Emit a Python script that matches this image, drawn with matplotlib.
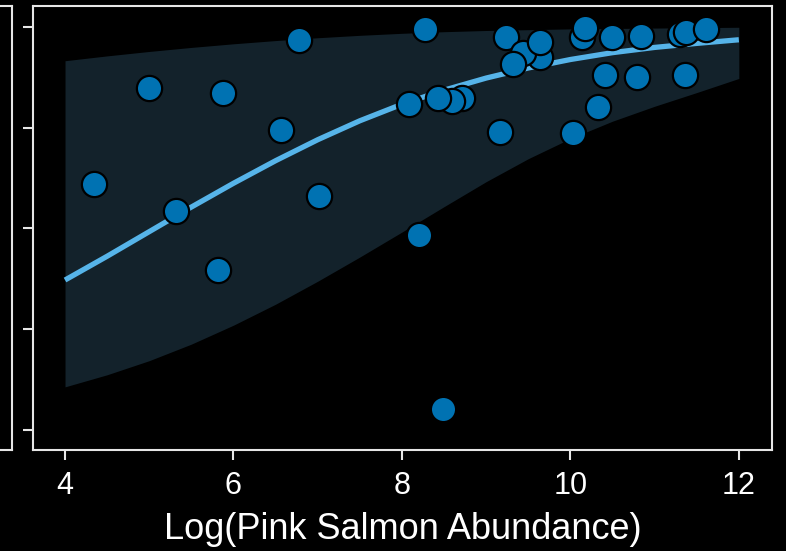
import numpy as np
import matplotlib.pyplot as plt

plt.rcParams["font.family"] = ["Liberation Sans", "DejaVu Sans"]

# observed points: log pink salmon abundance vs response
pink_x = [4.34, 5.00, 5.32, 5.82, 5.88, 6.57, 6.78, 7.01, 8.08, 8.20,
          8.27, 8.49, 8.71, 8.59, 8.43, 9.16, 9.24, 9.64, 9.44, 9.32,
          9.64, 10.03, 10.14, 10.17, 10.33, 10.41, 10.49, 10.79, 10.84,
          11.36, 11.30, 11.37, 11.61]
resp_y = [0.610, 0.848, 0.544, 0.397, 0.835, 0.744, 0.968, 0.581, 0.809, 0.484,
          0.994, 0.052, 0.823, 0.815, 0.823, 0.738, 0.976, 0.926, 0.935, 0.907,
          0.963, 0.736, 0.976, 0.997, 0.801, 0.881, 0.975, 0.876, 0.978,
          0.880, 0.983, 0.988, 0.995]

# fitted curve and confidence band
fit_x = [4.0, 4.5, 5.0, 5.5, 6.0, 6.5, 7.0, 7.5, 8.0, 8.5, 9.0, 9.5,
         10.0, 10.5, 11.0, 11.5, 12.0]
fit_y = [0.372, 0.431, 0.492, 0.553, 0.612, 0.668, 0.720, 0.767, 0.808,
         0.843, 0.873, 0.898, 0.919, 0.936, 0.949, 0.959, 0.968]
band_lo = [0.107, 0.137, 0.172, 0.213, 0.260, 0.312, 0.369, 0.429, 0.491,
           0.554, 0.616, 0.673, 0.723, 0.766, 0.803, 0.837, 0.872]
band_hi = [0.916, 0.928, 0.939, 0.949, 0.958, 0.966, 0.973, 0.979, 0.984,
           0.988, 0.991, 0.993, 0.995, 0.996, 0.997, 0.998, 0.999]

y_ticks = [0.0, 0.25, 0.5, 0.75, 1.0]
x_ticks = [4, 6, 8, 10, 12]

SPINE = "#e6e6e6"

fig = plt.figure(figsize=(7.86, 5.51), dpi=100, facecolor="black")

# neighbouring panel, mostly cut off at the left edge
ax0 = fig.add_axes([-0.5, 0.1833, 0.5153, 0.806])
ax0.set_facecolor("black")
ax0.set_xticks([])
ax0.set_yticks([])
for sp in ax0.spines.values():
    sp.set_color(SPINE)
    sp.set_linewidth(1.5)

ax = fig.add_axes([0.042, 0.1833, 0.940, 0.806])
ax.set_facecolor("black")

ax.fill_between(fit_x, band_lo, band_hi, color="#13222b", linewidth=0, zorder=1)
ax.plot(fit_x, fit_y, color="#56B4E9", linewidth=3.8, solid_capstyle="butt", zorder=2)
ax.scatter(pink_x, resp_y, s=330, color="#0072B2", edgecolor="black",
           linewidth=1.6, zorder=3)

ax.set_xlim(3.62, 12.392)
ax.set_ylim(-0.0496, 1.052)
ax.set_xticks(x_ticks)
ax.set_yticks(y_ticks)
ax.set_yticklabels([])
ax.tick_params(colors=SPINE, length=7.5, width=1.5, labelsize=22,
               labelcolor="white", pad=7.5)

for sp in ax.spines.values():
    sp.set_color(SPINE)
    sp.set_linewidth(1.5)

ax.set_xlabel("Log(Pink Salmon Abundance)", color="white", fontsize=26, labelpad=8)

fig.savefig("out.png", dpi=100, facecolor="black")
